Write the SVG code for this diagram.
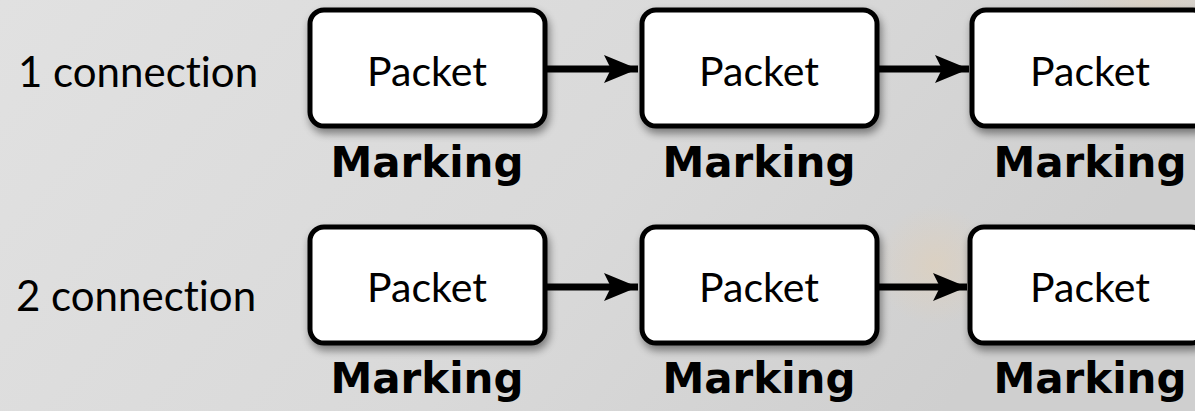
<svg xmlns="http://www.w3.org/2000/svg" width="1195" height="411" viewBox="0 0 1195 411">
<defs>
<linearGradient id="bg" x1="0" y1="0" x2="1" y2="0.3">
<stop offset="0" stop-color="#e1e1e1"/>
<stop offset="0.6" stop-color="#d9d9d9"/>
<stop offset="1" stop-color="#cfcfcf"/>
</linearGradient>
<radialGradient id="glow1" cx="935" cy="265" r="60" gradientUnits="userSpaceOnUse">
<stop offset="0" stop-color="#e2cfb5" stop-opacity="0.55"/>
<stop offset="1" stop-color="#e2cfb5" stop-opacity="0"/>
</radialGradient>
<radialGradient id="glow2" cx="1150" cy="0" r="90" gradientUnits="userSpaceOnUse">
<stop offset="0" stop-color="#e3cfb4" stop-opacity="0.45"/>
<stop offset="1" stop-color="#e3cfb4" stop-opacity="0"/>
</radialGradient>
<filter id="shadow" x="-10%" y="-10%" width="125%" height="135%">
<feGaussianBlur in="SourceAlpha" stdDeviation="4"/>
<feOffset dx="2" dy="5" result="b"/>
<feComponentTransfer><feFuncA type="linear" slope="0.45"/></feComponentTransfer>
<feMerge><feMergeNode/><feMergeNode in="SourceGraphic"/></feMerge>
</filter>
<marker id="arrow" markerUnits="userSpaceOnUse" markerWidth="40" markerHeight="32" refX="34" refY="14" orient="auto">
<path d="M0,0 L34,14 L0,28 L7,14 Z" fill="#000"/>
</marker>
</defs>
<style>
.box{fill:#fff;stroke:#000;stroke-width:5}
.pk{font-family:Lato,"Open Sans",sans-serif;font-size:41px;fill:#000;text-anchor:middle}
.mk{font-family:"DejaVu Sans",sans-serif;font-weight:bold;font-size:42px;fill:#000;text-anchor:middle}
.lb{font-family:Lato,"Open Sans",sans-serif;font-size:42px;fill:#000;font-variant-ligatures:none}
.conn{stroke:#000;stroke-width:7;fill:none}
</style>
<rect width="1195" height="411" fill="url(#bg)"/>
<rect width="1195" height="411" fill="url(#glow1)"/>
<rect width="1195" height="411" fill="url(#glow2)"/>

<text class="lb" x="18" y="87">1 connection</text>
<text class="lb" x="16" y="311">2 connection</text>

<g id="n1"><rect class="box" x="310" y="10" width="235" height="116" rx="14" filter="url(#shadow)"/><text class="pk" x="427" y="86">Packet</text><text class="mk" x="427" y="177">Marking</text></g>
<g id="n2"><rect class="box" x="642" y="10" width="235" height="116" rx="14" filter="url(#shadow)"/><text class="pk" x="759" y="86">Packet</text><text class="mk" x="759" y="177">Marking</text></g>
<g id="n3"><rect class="box" x="972" y="10" width="235" height="116" rx="14" filter="url(#shadow)"/><text class="pk" x="1090" y="86">Packet</text><text class="mk" x="1090" y="177">Marking</text></g>
<g id="n4"><rect class="box" x="310" y="227" width="235" height="116" rx="14" filter="url(#shadow)"/><text class="pk" x="427" y="302">Packet</text><text class="mk" x="427" y="393">Marking</text></g>
<g id="n5"><rect class="box" x="642" y="227" width="235" height="116" rx="14" filter="url(#shadow)"/><text class="pk" x="759" y="302">Packet</text><text class="mk" x="759" y="393">Marking</text></g>
<g id="n6"><rect class="box" x="970" y="227" width="235" height="116" rx="14" filter="url(#shadow)"/><text class="pk" x="1090" y="302">Packet</text><text class="mk" x="1090" y="393">Marking</text></g>

<g id="connectors">
<line class="conn" x1="547" y1="69" x2="638" y2="69" marker-end="url(#arrow)"/>
<line class="conn" x1="879" y1="69" x2="969" y2="69" marker-end="url(#arrow)"/>
<line class="conn" x1="547" y1="287" x2="638" y2="287" marker-end="url(#arrow)"/>
<line class="conn" x1="879" y1="287" x2="967" y2="287" marker-end="url(#arrow)"/>
</g>
</svg>
